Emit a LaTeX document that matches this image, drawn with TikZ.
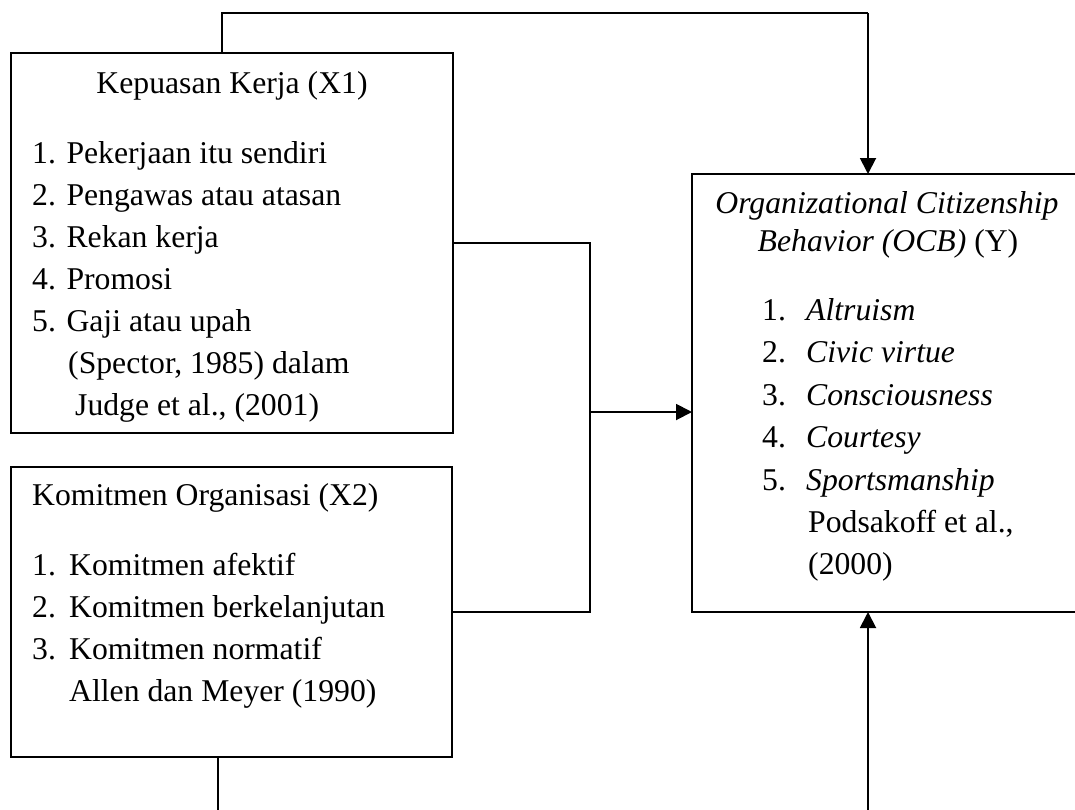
\documentclass[tikz,border=0pt]{standalone}
\usepackage{fontspec}
\setmainfont{Liberation Serif}
\usetikzlibrary{arrows.meta}
\begin{document}
\begin{tikzpicture}[x=1pt,y=-1pt,
  box/.style={draw=black,line width=1.9pt,rectangle,inner sep=0pt,outer sep=0pt},
  line/.style={draw=black,line width=1.9pt},
  arr/.style={line,-{Triangle[length=16pt,width=16pt]}},
  txt/.style={anchor=base west,inner sep=0pt,font=\fontsize{31.7}{42}\selectfont},
  ctxt/.style={txt,anchor=base}]
\useasboundingbox (0,0) rectangle (1075,809);
% boxes
\node[box,minimum width=442pt,minimum height=380pt] (x1) at (232,243) {};
\node[box,minimum width=441pt,minimum height=290pt] (x2) at (231.5,612) {};
\node[box,minimum width=390pt,minimum height=438pt] (ocb) at (887,393) {};
% X1 text
\node[ctxt] (k0) at (232,93) {Kepuasan Kerja (X1)};
\node[txt] (k1) at (32,163) {1. Pekerjaan itu sendiri};
\node[txt] (k2) at (32,205) {2. Pengawas atau atasan};
\node[txt] (k3) at (32,247) {3. Rekan kerja};
\node[txt] (k4) at (32,289) {4. Promosi};
\node[txt] (k5) at (32,331) {5. Gaji atau upah};
\node[txt] (k6) at (68,373) {(Spector, 1985) dalam};
\node[txt] (k7) at (75,415) {Judge et al., (2001)};
% X2 text
\node[txt] (m0) at (32,505) {Komitmen Organisasi (X2)};
\node[txt] (m1n) at (32,575) {1.};
\node[txt] (m1) at (69,575) {Komitmen afektif};
\node[txt] (m2n) at (32,617) {2.};
\node[txt] (m2) at (69,617) {Komitmen berkelanjutan};
\node[txt] (m3n) at (32,659) {3.};
\node[txt] (m3) at (69,659) {Komitmen normatif};
\node[txt] (m4) at (69,701) {Allen dan Meyer (1990)};
% OCB text
\node[ctxt] (o0) at (887,213) {\itshape Organizational Citizenship};
\node[ctxt] (o1) at (888,251) {\textit{Behavior (OCB)} (Y)};
\node[txt] (o2n) at (762,320) {1.};
\node[txt] (o2) at (806,320) {\itshape Altruism};
\node[txt] (o3n) at (762,362) {2.};
\node[txt] (o3) at (806,362) {\itshape Civic virtue};
\node[txt] (o4n) at (762,405) {3.};
\node[txt] (o4) at (806,405) {\itshape Consciousness};
\node[txt] (o5n) at (762,447) {4.};
\node[txt] (o5) at (806,447) {\itshape Courtesy};
\node[txt] (o6n) at (762,490) {5.};
\node[txt] (o6) at (806,490) {\itshape Sportsmanship};
\node[txt] (o7) at (808,532) {Podsakoff et al.,};
\node[txt] (o8) at (808,574) {(2000)};
% connectors
\coordinate (tl) at (222,13);
\coordinate (tr) at (868,13);
\draw[line] (x1.north -| tl) -- (tl) -- (tr);
\draw[arr] (tr) -- (tr |- ocb.north);
\coordinate (ja) at (590,243);
\coordinate (jb) at (590,612);
\coordinate (jm) at (590,412);
\draw[line] (x1.east) -- (ja) -- (jb) -- (x2.east);
\draw[arr] (jm) -- (jm -| ocb.west);
\coordinate (bl) at (218,815);
\draw[line] (x2.south -| bl) -- (bl);
\coordinate (br) at (868,815);
\draw[arr] (br) -- (br |- ocb.south);
\end{tikzpicture}
\end{document}
